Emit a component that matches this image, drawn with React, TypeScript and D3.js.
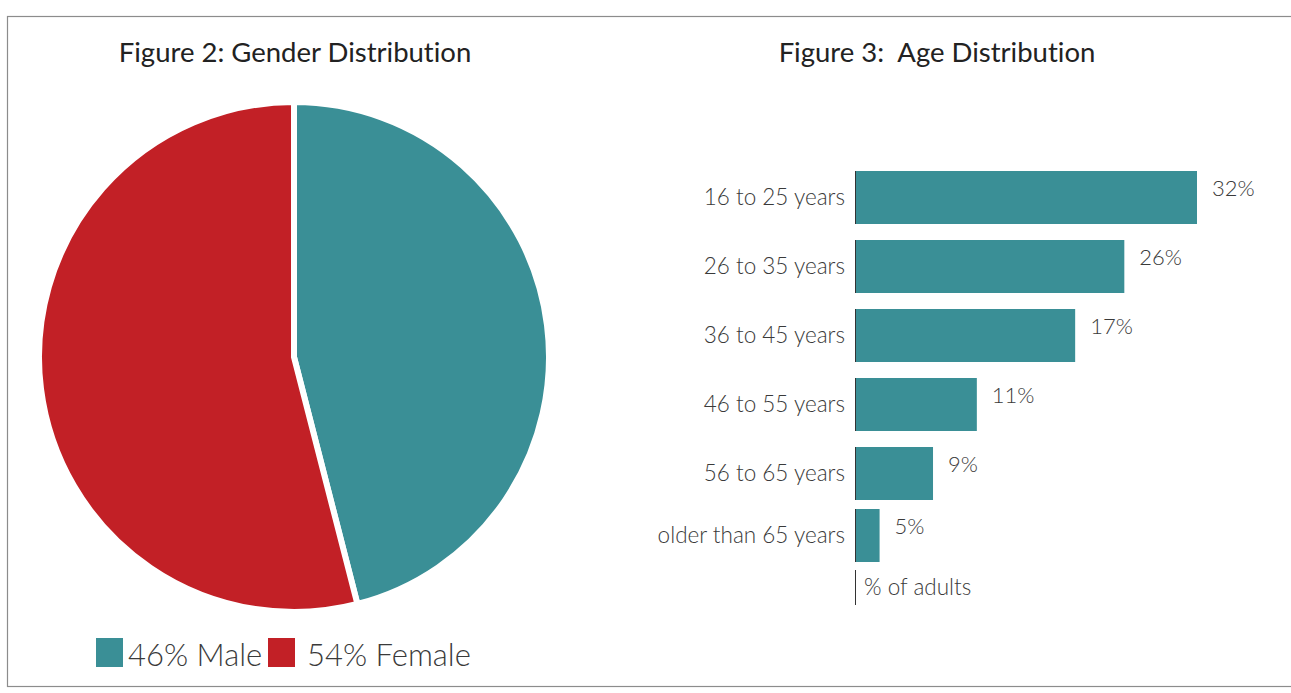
import React from "react";
import * as d3 from "d3";

const genderLabels = ["Male", "Female"];
const genderValues = [46, 54];
const genderColors = ["#3a8f96", "#c22026"];

const ageCategories = [
  "16 to 25 years",
  "26 to 35 years",
  "36 to 45 years",
  "46 to 55 years",
  "56 to 65 years",
  "older than 65 years",
];
// bar lengths as drawn in the picture (in % units), and their printed labels
const ageBarValues = [32, 25.2, 20.6, 11.4, 7.3, 2.3];
const ageLabels = ["32%", "26%", "17%", "11%", "9%", "5%"];

const W = 1291;
const H = 693;
const FONT = "Lato, 'Noto Sans', sans-serif";
const TEXT = "#3a3a3a";

export default function App() {
  const cx = 294;
  const cy = 357;
  const r = 255;
  const pie = d3.pie<number>().sort(null).value((d) => d)(genderValues);
  const arc = d3.arc<d3.PieArcDatum<number>>().innerRadius(0).outerRadius(r);

  const x0 = 855;
  const x = d3.scaleLinear().domain([0, 32]).range([x0, 1197]);
  const bw = 53;
  const y = d3
    .scaleBand<string>()
    .domain(ageCategories)
    .range([171, 171 + 69 * 6])
    .paddingInner(16 / 69)
    .paddingOuter(0);
  const barTop = (c: string, i: number) => 171 + (y(c)! - 171) * (69 / y.step()) - (i === 5 ? 7 : 0);

  return (
    <svg
      width={W}
      height={H}
      style={{ position: "absolute", left: 0, top: 0, background: "#fff", fontVariantLigatures: "none" }}
      fontFamily={FONT}
    >
      <rect x={7.5} y={16.5} width={1300} height={670} fill="none" stroke="#8c8c8c" strokeWidth={1.2} />

      <text x={295} y={62} textAnchor="middle" fontSize={27.5} fill="#222">
        Figure 2: Gender Distribution
      </text>
      <text x={937} y={62} textAnchor="middle" fontSize={27.5} fill="#222" style={{ whiteSpace: "pre" }}>
        {"Figure 3:  Age Distribution"}
      </text>

      <g transform={`translate(${cx},${cy})`}>
        {pie.map((p, i) => (
          <path key={i} d={arc(p) || ""} fill={genderColors[i]} stroke="#fff" strokeWidth={6} strokeLinejoin="miter" />
        ))}
      </g>

      <g>
        <rect x={96} y={638} width={27} height={29} fill={genderColors[0]} />
        <text x={128} y={666} fontSize={31} fontWeight={300} fill={TEXT}>
          {`${genderValues[0]}% ${genderLabels[0]}`}
        </text>
        <rect x={268} y={638} width={27} height={29} fill={genderColors[1]} />
        <text x={307} y={666} fontSize={31} fontWeight={300} fill={TEXT}>
          {`${genderValues[1]}% ${genderLabels[1]}`}
        </text>
      </g>

      <g>
        {ageCategories.map((c, i) => {
          const by = barTop(c, i);
          return (
            <g key={c}>
              <rect x={x0} y={by} width={x(ageBarValues[i]) - x0} height={bw} fill="#3a8f96" />
              <line x1={x0 + 0.5} x2={x0 + 0.5} y1={by} y2={by + bw} stroke="#333" strokeWidth={1} />
              <text x={845} y={by + bw / 2 + 2} textAnchor="end" dominantBaseline="middle" fontSize={22.5} fontWeight={300} fill={TEXT}>
                {c}
              </text>
              <text x={x(ageBarValues[i]) + 15} y={by + bw / 2 - 7} dominantBaseline="middle" fontSize={22} fontWeight={300} fill={TEXT}>
                {ageLabels[i]}
              </text>
            </g>
          );
        })}
        <line x1={x0 + 0.5} x2={x0 + 0.5} y1={570} y2={605} stroke="#333" strokeWidth={1} />
        <text x={864} y={589} dominantBaseline="middle" fontSize={22.5} fontWeight={300} fill={TEXT}>
          % of adults
        </text>
      </g>
    </svg>
  );
}
